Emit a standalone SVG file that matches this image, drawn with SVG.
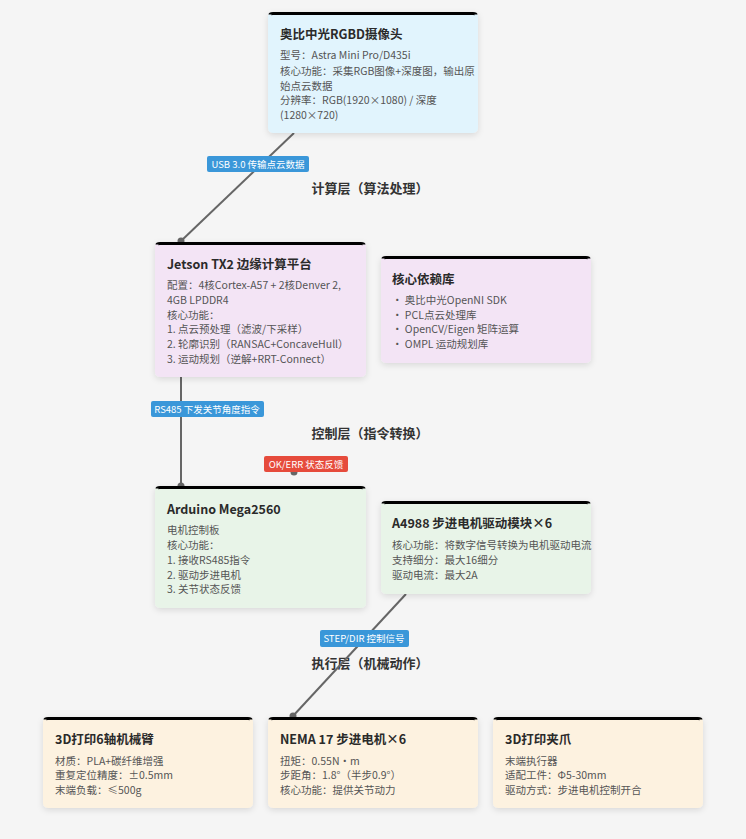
<svg xmlns="http://www.w3.org/2000/svg" width="746" height="839" viewBox="0 0 746 839">
<defs>
<style>
text{font-family:"Noto Sans CJK SC","Noto Sans",sans-serif}
.t{font-size:12.5px;font-weight:bold;fill:#2a2a2a}
.b{font-size:10.5px;fill:#555}
.ly{font-size:13px;font-weight:bold;fill:#333;text-anchor:middle}
.lb{font-size:9.5px;fill:#fff;text-anchor:middle}
.top{fill:none;stroke:#000;stroke-width:3}
.ln{stroke:#666;stroke-width:2;fill:none}
</style>
<filter id="sh" x="-10%" y="-10%" width="120%" height="130%"><feDropShadow dx="0" dy="2" stdDeviation="3" flood-opacity="0.12"/></filter>
</defs>
<rect width="746" height="839" fill="#f5f5f5"/>
<text class="ly" x="370" y="193">计算层（算法处理）</text>
<text class="ly" x="370" y="438">控制层（指令转换）</text>
<text class="ly" x="370" y="668">执行层（机械动作）</text>
<g id="connectors">
<path class="ln" d="M294,133 L181,241"/><circle cx="181" cy="241" r="3.5" fill="#666"/>
<path class="ln" d="M181,377 L181,486"/><circle cx="181" cy="486" r="3.5" fill="#666"/>
<path class="ln" d="M406,594 L293,716"/><circle cx="293" cy="716" r="3.5" fill="#666"/>
<circle cx="294" cy="472" r="3.5" fill="#666"/>
<rect x="207" y="156" width="102" height="16" rx="2" fill="#3a97d9"/><text class="lb" x="258" y="168">USB 3.0 传输点云数据</text>
<rect x="151" y="401" width="113" height="16" rx="2" fill="#3a97d9"/><text class="lb" x="207" y="413">RS485 下发关节角度指令</text>
<rect x="264" y="456" width="84" height="16" rx="2" fill="#e64b3c"/><text class="lb" x="306" y="468">OK/ERR 状态反馈</text>
<rect x="271" y="532" width="62" height="16" rx="2" fill="#3a97d9"/><text class="lb" x="302" y="544">数字I/O控制</text>
<rect x="320" y="630" width="89" height="17" rx="2" fill="#3a97d9"/><text class="lb" x="364" y="642">STEP/DIR 控制信号</text>
</g>
<g id="camera">
<rect x="268" y="12" width="210" height="121" rx="5" fill="#e1f4fd" filter="url(#sh)"/>
<path class="top" d="M270,14.5 Q270,13.5 273,13.5 L473,13.5 Q476,13.5 476,14.5"/>
<text class="t" x="280" y="39">奥比中光RGBD摄像头</text>
<text class="b"><tspan x="280" y="59">型号：Astra Mini Pro/D435i</tspan><tspan x="280" y="75">核心功能：采集RGB图像+深度图，输出原</tspan><tspan x="280" y="90">始点云数据</tspan><tspan x="280" y="104">分辨率：RGB(1920×1080) / 深度</tspan><tspan x="280" y="119">(1280×720)</tspan></text>
</g>
<g id="jetson">
<rect x="155" y="242" width="211" height="135" rx="5" fill="#f3e4f5" filter="url(#sh)"/>
<path class="top" d="M157,244.5 Q157,243.5 160,243.5 L361,243.5 Q364,243.5 364,244.5"/>
<text class="t" x="167" y="269">Jetson TX2 边缘计算平台</text>
<text class="b"><tspan x="167" y="289">配置：4核Cortex-A57 + 2核Denver 2,</tspan><tspan x="167" y="304">4GB LPDDR4</tspan><tspan x="167" y="319">核心功能：</tspan><tspan x="167" y="333">1. 点云预处理（滤波/下采样）</tspan><tspan x="167" y="348">2. 轮廓识别（RANSAC+ConcaveHull）</tspan><tspan x="167" y="363">3. 运动规划（逆解+RRT-Connect）</tspan></text>
</g>
<g id="libs">
<rect x="381" y="256" width="210" height="107" rx="5" fill="#f3e4f5" filter="url(#sh)"/>
<path class="top" d="M383,258.5 Q383,257.5 386,257.5 L586,257.5 Q589,257.5 589,258.5"/>
<text class="t" x="392" y="284">核心依赖库</text>
<text class="b"><tspan x="392" y="304">• 奥比中光OpenNI SDK</tspan><tspan x="392" y="319">• PCL点云处理库</tspan><tspan x="392" y="333">• OpenCV/Eigen 矩阵运算</tspan><tspan x="392" y="348">• OMPL 运动规划库</tspan></text>
</g>
<g id="arduino">
<rect x="155" y="486" width="211" height="122" rx="5" fill="#e8f4e8" filter="url(#sh)"/>
<path class="top" d="M157,488.5 Q157,487.5 160,487.5 L361,487.5 Q364,487.5 364,488.5"/>
<text class="t" x="167" y="514">Arduino Mega2560</text>
<text class="b"><tspan x="167" y="534">电机控制板</tspan><tspan x="167" y="549">核心功能：</tspan><tspan x="167" y="564">1. 接收RS485指令</tspan><tspan x="167" y="579">2. 驱动步进电机</tspan><tspan x="167" y="593">3. 关节状态反馈</tspan></text>
</g>
<g id="a4988">
<rect x="381" y="501" width="210" height="93" rx="5" fill="#e8f4e8" filter="url(#sh)"/>
<path class="top" d="M383,503.5 Q383,502.5 386,502.5 L586,502.5 Q589,502.5 589,503.5"/>
<text class="t" x="392" y="528">A4988 步进电机驱动模块×6</text>
<text class="b"><tspan x="392" y="549">核心功能：将数字信号转换为电机驱动电流</tspan><tspan x="392" y="564">支持细分：最大16细分</tspan><tspan x="392" y="579">驱动电流：最大2A</tspan></text>
</g>
<g id="arm">
<rect x="43" y="717" width="210" height="91" rx="5" fill="#fdf2e0" filter="url(#sh)"/>
<path class="top" d="M45,719.5 Q45,718.5 48,718.5 L248,718.5 Q251,718.5 251,719.5"/>
<text class="t" x="55" y="744">3D打印6轴机械臂</text>
<text class="b"><tspan x="55" y="765">材质：PLA+碳纤维增强</tspan><tspan x="55" y="779">重复定位精度：±0.5mm</tspan><tspan x="55" y="794">末端负载：≤500g</tspan></text>
</g>
<g id="nema">
<rect x="268" y="717" width="210" height="91" rx="5" fill="#fdf2e0" filter="url(#sh)"/>
<path class="top" d="M270,719.5 Q270,718.5 273,718.5 L473,718.5 Q476,718.5 476,719.5"/>
<text class="t" x="280" y="744">NEMA 17 步进电机×6</text>
<text class="b"><tspan x="280" y="765">扭矩：0.55N·m</tspan><tspan x="280" y="779">步距角：1.8°（半步0.9°）</tspan><tspan x="280" y="794">核心功能：提供关节动力</tspan></text>
</g>
<g id="gripper">
<rect x="493" y="717" width="210" height="91" rx="5" fill="#fdf2e0" filter="url(#sh)"/>
<path class="top" d="M495,719.5 Q495,718.5 498,718.5 L698,718.5 Q701,718.5 701,719.5"/>
<text class="t" x="505" y="744">3D打印夹爪</text>
<text class="b"><tspan x="505" y="765">末端执行器</tspan><tspan x="505" y="779">适配工件：Φ5-30mm</tspan><tspan x="505" y="794">驱动方式：步进电机控制开合</tspan></text>
</g>
</svg>
